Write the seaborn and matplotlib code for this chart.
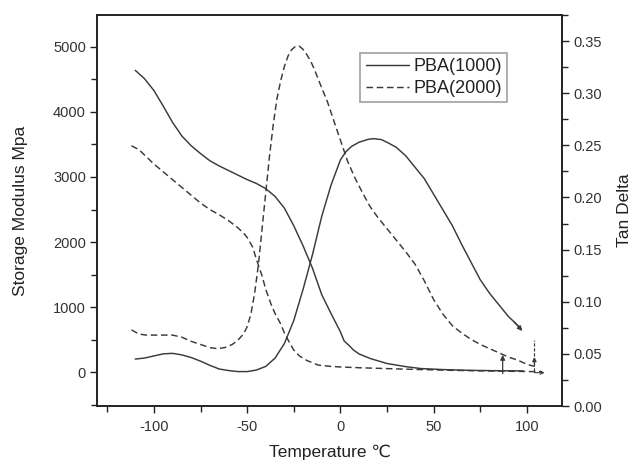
import matplotlib
matplotlib.use("Agg")
import matplotlib.pyplot as plt
import seaborn as sns
import pandas as pd
from matplotlib.ticker import MultipleLocator
from matplotlib.lines import Line2D

# ---------------- data ----------------
# Storage modulus, PBA(1000) (solid, left axis)
mod1000_T = [-110, -105, -100, -95, -90, -85, -80, -75, -70, -65, -60, -55, -50, -45,
             -40, -35, -30, -25, -20, -15, -10, -5, 0, 2, 5, 7, 10, 16, 25, 35, 43,
             55, 70, 85, 98]
mod1000_E = [4640, 4510, 4330, 4090, 3840, 3630, 3480, 3360, 3250, 3170, 3100, 3030,
             2960, 2900, 2820, 2700, 2520, 2250, 1940, 1600, 1190, 900, 620, 480, 400,
             340, 280, 210, 133, 85, 56, 40, 28, 22, 20]

# Storage modulus, PBA(2000) (dashed, left axis)
mod2000_T = [-112, -108, -104, -100, -95, -90, -85, -80, -75, -70, -65, -60, -55, -52,
             -50, -47, -45, -42, -40, -37, -35, -32, -30, -27, -25, -22, -18, -12, -5,
             0, 10, 25, 40, 60, 80, 100, 108]
mod2000_E = [3480, 3420, 3310, 3200, 3080, 2960, 2840, 2720, 2600, 2500, 2420, 2330,
             2220, 2140, 2070, 1920, 1730, 1480, 1270, 1030, 900, 740, 600, 440, 340,
             250, 180, 110, 88, 80, 68, 55, 42, 28, 18, 10, 6]

# Tan delta, PBA(1000) (solid, right axis)
tan1000_T = [-110, -105, -100, -95, -90, -85, -80, -75, -70, -65, -60, -55, -50, -45,
             -40, -35, -30, -25, -20, -15, -10, -5, 0, 3, 6, 10, 15, 18, 22, 26, 30,
             35, 40, 45, 50, 55, 60, 65, 70, 75, 80, 85, 90, 97]
tan1000_D = [0.045, 0.046, 0.048, 0.050, 0.0505, 0.049, 0.0465, 0.043, 0.039, 0.0355,
             0.034, 0.033, 0.033, 0.0345, 0.038, 0.046, 0.060, 0.082, 0.112, 0.145,
             0.182, 0.212, 0.236, 0.244, 0.249, 0.253, 0.2558, 0.2564, 0.2555, 0.252,
             0.248, 0.240, 0.229, 0.218, 0.203, 0.188, 0.173, 0.155, 0.138, 0.121,
             0.108, 0.097, 0.086, 0.074]

# Tan delta, PBA(2000) (dashed, right axis)
tan2000_T = [-112, -108, -104, -100, -95, -90, -85, -80, -75, -70, -66, -62, -58, -55,
             -52, -50, -48, -46, -44, -42, -40, -38, -36, -34, -32, -30, -28, -26, -24,
             -22, -20, -18, -16, -14, -12, -10, -7, -4, 0, 4, 8, 12, 16, 20, 25, 30,
             35, 40, 45, 50, 55, 60, 65, 70, 75, 80, 85, 90, 95, 100, 104]
tan2000_D = [0.073, 0.069, 0.068, 0.068, 0.068, 0.068, 0.066, 0.062, 0.059, 0.056,
             0.055, 0.056, 0.059, 0.063, 0.069, 0.076, 0.088, 0.108, 0.135, 0.170,
             0.205, 0.240, 0.270, 0.295, 0.312, 0.326, 0.336, 0.342, 0.345, 0.345,
             0.342, 0.337, 0.331, 0.323, 0.314, 0.305, 0.292, 0.276, 0.255, 0.234,
             0.218, 0.204, 0.191, 0.181, 0.170, 0.159, 0.148, 0.136, 0.120, 0.102,
             0.088, 0.077, 0.070, 0.064, 0.059, 0.055, 0.051, 0.047, 0.044, 0.040,
             0.038]

series_labels = ["PBA(1000)", "PBA(2000)"]
x_label = "Temperature ℃"
y_label_left = "Storage Modulus Mpa"
y_label_right = "Tan Delta"

# small annotation arrows in the original (right-axis coordinates)
arrow_tail_x = [87, 93.0]
arrow_tail_y = [0.031, 0.081]
arrow_head_x = [87, 97.5]
arrow_head_y = [0.049, 0.072]
dash_arrow_x = [104, 104]
dash_arrow_y = [0.034, 0.063]
end_arrow_x = [104, 109.5]
end_arrow_y = [0.032, 0.032]

# ---------------- plotting ----------------
sns.set_style("ticks")
plt.rcParams["font.family"] = ["Liberation Sans", "DejaVu Sans"]
plt.rcParams["axes.unicode_minus"] = False

LINE = "#3a3a3a"
TXT = "#333333"
DASH = (4.5, 2.5)

fig = plt.figure(figsize=(6.34, 4.61), dpi=100)
ax = fig.add_axes([97 / 634, 1 - 406 / 461, (562 - 97) / 634, (406 - 15) / 461])
ax2 = ax.twinx()

df_m1 = pd.DataFrame({"T": mod1000_T, "E": mod1000_E})
df_m2 = pd.DataFrame({"T": mod2000_T, "E": mod2000_E})
df_t1 = pd.DataFrame({"T": tan1000_T, "D": tan1000_D})
df_t2 = pd.DataFrame({"T": tan2000_T, "D": tan2000_D})

sns.lineplot(data=df_m1, x="T", y="E", ax=ax, color=LINE, lw=1.05, sort=False,
             estimator=None, legend=False)
sns.lineplot(data=df_m2, x="T", y="E", ax=ax, color=LINE, lw=1.05, sort=False,
             estimator=None, legend=False, dashes=False, linestyle=(0, DASH))
sns.lineplot(data=df_t1, x="T", y="D", ax=ax2, color=LINE, lw=1.05, sort=False,
             estimator=None, legend=False)
sns.lineplot(data=df_t2, x="T", y="D", ax=ax2, color=LINE, lw=1.05, sort=False,
             estimator=None, legend=False, dashes=False, linestyle=(0, DASH))

# annotation arrows
for tx, ty, hx, hy in zip(arrow_tail_x, arrow_tail_y, arrow_head_x, arrow_head_y):
    ax2.annotate("", xy=(hx, hy), xytext=(tx, ty),
                 arrowprops=dict(arrowstyle="-|>", color=LINE, lw=0.9,
                                 mutation_scale=7, shrinkA=0, shrinkB=0))
ax2.plot(dash_arrow_x, dash_arrow_y, color=LINE, lw=0.9, linestyle=(0, (2.5, 1.5)))
ax2.annotate("", xy=(dash_arrow_x[0], 0.047), xytext=(dash_arrow_x[0], 0.040),
             arrowprops=dict(arrowstyle="-|>", color=LINE, lw=0.9,
                             mutation_scale=6, shrinkA=0, shrinkB=0))
ax2.annotate("", xy=(end_arrow_x[1], end_arrow_y[1]), xytext=(end_arrow_x[0], end_arrow_y[0]),
             arrowprops=dict(arrowstyle="->", color=LINE, lw=0.8,
                             mutation_scale=6, shrinkA=0, shrinkB=0))

# axes limits and ticks
ax.set_xlim(-130.5, 118.8)
ax.set_ylim(-520, 5490)
ax2.set_ylim(0, 0.375)

ax.xaxis.set_major_locator(MultipleLocator(50))
ax.xaxis.set_minor_locator(MultipleLocator(25))
ax.yaxis.set_major_locator(MultipleLocator(1000))
ax.yaxis.set_minor_locator(MultipleLocator(500))
ax2.yaxis.set_major_locator(MultipleLocator(0.05))
ax2.yaxis.set_minor_locator(MultipleLocator(0.025))
ax2.set_yticks([0.0, 0.05, 0.10, 0.15, 0.20, 0.25, 0.30, 0.35])
ax2.set_yticklabels(["0.00", "0.05", "0.10", "0.15", "0.20", "0.25", "0.30", "0.35"])

for a in (ax, ax2):
    a.tick_params(which="major", direction="out", length=5, width=1.0,
                  color="#222222", labelsize=10.5, labelcolor=TXT)
    a.tick_params(which="minor", direction="out", length=4, width=1.0,
                  color="#222222")
    for s in a.spines.values():
        s.set_visible(True)
        s.set_linewidth(1.2)
        s.set_color("#222222")
ax.tick_params(axis="x", which="major", pad=5)
ax.tick_params(axis="y", which="major", pad=3)
ax2.tick_params(axis="y", which="major", pad=3)

ax.set_xlabel(x_label, fontsize=12.5, color="#222222", labelpad=8)
ax.set_ylabel(y_label_left, fontsize=12.5, color="#222222", labelpad=18)
ax2.set_ylabel(y_label_right, fontsize=12.5, color="#222222", labelpad=11)

handles = [Line2D([], [], color=LINE, lw=1.05),
           Line2D([], [], color=LINE, lw=1.05, linestyle=(0, DASH))]
leg = ax.legend(handles, series_labels, loc="upper left",
                bbox_to_anchor=(0.566, 0.903), borderaxespad=0, fontsize=13,
                frameon=True, fancybox=False, edgecolor="#888888",
                handlelength=2.4, handletextpad=0.25, borderpad=0.3,
                labelspacing=0.25)
leg.get_frame().set_linewidth(1.2)
for t in leg.get_texts():
    t.set_color("#222222")

fig.savefig("out.png", dpi=100)
